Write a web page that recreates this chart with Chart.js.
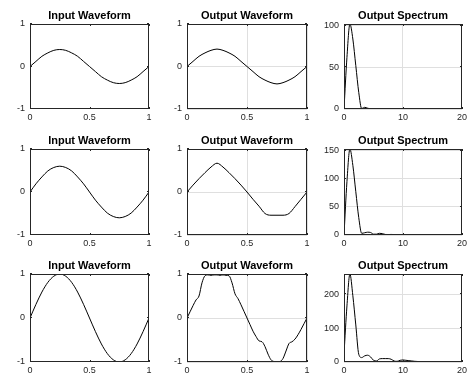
<!DOCTYPE html>
<html>
<head>
<meta charset="utf-8">
<script src="https://cdn.jsdelivr.net/npm/chart.js@4.4.1/dist/chart.umd.min.js"></script>
<style>
  html, body { margin: 0; padding: 0; background: #fff; }
  body { width: 470px; height: 375px; position: relative; overflow: hidden; }
  canvas { position: absolute; }
</style>
</head>
<body>
<script>
// Sample positions: time (s) for waveforms, frequency (Hz) for spectra
const tCoarse = [0, 0.05, 0.1, 0.15, 0.2, 0.25, 0.3, 0.35, 0.4, 0.45, 0.5,
  0.55, 0.6, 0.65, 0.7, 0.75, 0.8, 0.85, 0.9, 0.95, 1];
const tFine = [0, 0.025, 0.05, 0.075, 0.1, 0.125, 0.15, 0.175, 0.2, 0.225, 0.25,
  0.275, 0.3, 0.325, 0.35, 0.375, 0.4, 0.425, 0.45, 0.475, 0.5,
  0.525, 0.55, 0.575, 0.6, 0.625, 0.65, 0.675, 0.7, 0.725, 0.75,
  0.775, 0.8, 0.825, 0.85, 0.875, 0.9, 0.925, 0.95, 0.975, 1];
const freq = [0, 0.5, 1, 1.5, 2, 2.5, 3, 3.5, 4, 4.5, 5, 5.5, 6, 6.5, 7, 7.5, 8, 8.5, 9, 9.5, 10,
  10.5, 11, 11.5, 12, 12.5, 13, 13.5, 14, 14.5, 15, 15.5, 16, 16.5, 17, 17.5, 18, 18.5, 19, 19.5, 20];

// Row 1: small input, passes unchanged
const input1 = [0, 0.12, 0.24, 0.32, 0.38, 0.4, 0.38, 0.32, 0.24, 0.12, 0,
  -0.12, -0.24, -0.32, -0.38, -0.4, -0.38, -0.32, -0.24, -0.12, 0];
const output1 = [0, 0.12, 0.24, 0.32, 0.38, 0.41, 0.38, 0.32, 0.24, 0.12, 0,
  -0.12, -0.24, -0.32, -0.38, -0.41, -0.38, -0.32, -0.24, -0.12, 0];
const spectrum1 = [0, 62, 102, 84, 52, 20, 0.5, 2, 1, 0.3, 0.5, 0.3, 0.3, 0.2, 0.2, 0.2, 0.2, 0.1, 0.1, 0.1, 0.1,
  0.1, 0.1, 0.1, 0.1, 0.1, 0.1, 0.1, 0.1, 0.1, 0.1, 0.1, 0.1, 0.1, 0.1, 0.1, 0.1, 0.1, 0.1, 0.1, 0.1];

// Row 2: medium input, peak sharpened and trough flattened
const input2 = [0, 0.19, 0.35, 0.49, 0.57, 0.6, 0.57, 0.49, 0.35, 0.19, 0,
  -0.19, -0.35, -0.49, -0.57, -0.6, -0.57, -0.49, -0.35, -0.19, 0];
const output2 = [0, 0.16, 0.31, 0.45, 0.58, 0.67, 0.58, 0.45, 0.31, 0.16, 0,
  -0.17, -0.33, -0.5, -0.54, -0.54, -0.54, -0.5, -0.34, -0.17, 0];
const spectrum2 = [0, 95, 153, 124, 77, 31, 3, 4, 5, 4.5, 1.5, 1.5, 3, 2.5, 1, 0.8, 1, 0.8, 0.8, 0.6, 0.5,
  0.4, 0.4, 0.3, 0.3, 0.3, 0.3, 0.3, 0.3, 0.3, 0.3, 0.3, 0.3, 0.3, 0.3, 0.3, 0.3, 0.3, 0.3, 0.3, 0.3];

// Row 3: full-scale input, heavily distorted output
const input3 = [0, 0.31, 0.59, 0.81, 0.95, 1, 0.95, 0.81, 0.59, 0.31, 0,
  -0.31, -0.59, -0.81, -0.95, -1, -0.95, -0.81, -0.59, -0.31, 0];
const output3 = [0, 0.14, 0.28, 0.41, 0.5, 0.8, 0.96, 0.98, 0.97, 0.98, 0.98,
  0.97, 0.98, 0.97, 0.96, 0.8, 0.55, 0.44, 0.3, 0.15, 0,
  -0.15, -0.3, -0.42, -0.52, -0.54, -0.65, -0.82, -0.95, -0.99, -1.0,
  -0.99, -0.92, -0.75, -0.58, -0.54, -0.48, -0.38, -0.26, -0.13, 0];
const spectrum3 = [24, 165, 259, 195, 109, 23, 13, 18, 20, 15, 5, 3, 9, 10, 10, 10, 8, 3, 2, 5, 6,
  5, 4, 3, 2, 1.5, 1, 0.8, 0.5, 0.5, 0.4, 0.4, 0.4, 0.3, 0.3, 0.3, 0.3, 0.3, 0.3, 0.3, 0.3];
const spectrumMax = [102, 153, 259];

// Tick labels
const waveXTicks = [0, 0.5, 1];
const waveYTicks = [-1, 0, 1];
const specXTicks = [0, 10, 20];
const specYTicks = [[0, 50, 100], [0, 50, 100, 150], [0, 100, 200]];

// Layout of the 3x3 grid (plot-area boxes)
const colLeft = [30, 187, 344];
const colWidth = [119, 120, 120];
const rowTop = [24, 149, 274];
const rowHeight = [85, 86, 88];
const Y_AXIS_W = 30, X_AXIS_H = 14, TITLE_H = 22, PAD_R = 6;

const axisColor = '#262626';
const gridColor = '#dfdfdf';
const fontFamily = '"Liberation Sans", Arial, Helvetica, sans-serif';

// Draws the closed box, MATLAB-style inward ticks on all sides, and the centred title
const boxPlugin = {
  id: 'box',
  afterDatasetsDraw(chart, args, opts) {
    const { ctx, chartArea: a, scales } = chart;
    const tl = 2;
    ctx.save();
    ctx.strokeStyle = axisColor;
    ctx.lineWidth = 1;
    ctx.beginPath();
    scales.x.ticks.forEach(t => {
      const px = Math.round(scales.x.getPixelForValue(t.value)) + 0.5;
      ctx.moveTo(px, a.bottom); ctx.lineTo(px, a.bottom - tl);
      ctx.moveTo(px, a.top); ctx.lineTo(px, a.top + tl);
    });
    scales.y.ticks.forEach(t => {
      const py = Math.round(scales.y.getPixelForValue(t.value)) - 0.5;
      ctx.moveTo(a.left, py); ctx.lineTo(a.left + tl, py);
      ctx.moveTo(a.right, py); ctx.lineTo(a.right - tl, py);
    });
    ctx.stroke();
    ctx.strokeRect(a.left + 0.5, a.top + 0.5, a.right - a.left - 1, a.bottom - a.top - 1);

    ctx.fillStyle = '#000';
    ctx.font = 'bold 11px ' + fontFamily;
    ctx.textAlign = 'center';
    ctx.textBaseline = 'alphabetic';
    ctx.fillText(opts.text, (a.left + a.right) / 2, a.top - 5);
    ctx.restore();
  }
};

function fmt(v) {
  return String(+Number(v).toFixed(2));
}

function makePanel(row, col, title, xs, ys, xRange, xTicks, yRange, yTicks, showGrid) {
  const canvas = document.createElement('canvas');
  const w = Y_AXIS_W + colWidth[col] + PAD_R;
  const h = TITLE_H + rowHeight[row] + X_AXIS_H;
  canvas.width = w;
  canvas.height = h;
  canvas.style.width = w + 'px';
  canvas.style.height = h + 'px';
  canvas.style.left = (colLeft[col] - Y_AXIS_W) + 'px';
  canvas.style.top = (rowTop[row] - TITLE_H) + 'px';
  document.body.appendChild(canvas);

  const tickFont = { family: fontFamily, size: 9 };
  const gridOpts = {
    display: showGrid,
    drawOnChartArea: showGrid,
    drawTicks: false,
    color: gridColor,
    lineWidth: 1
  };

  return new Chart(canvas, {
    type: 'line',
    data: {
      datasets: [{
        data: xs.map((x, i) => ({ x: x, y: ys[i] })),
        borderColor: '#000',
        borderWidth: 1,
        pointRadius: 0,
        fill: false,
        cubicInterpolationMode: 'monotone'
      }]
    },
    options: {
      responsive: false,
      animation: false,
      devicePixelRatio: 1,
      layout: { padding: { left: 0, right: PAD_R, top: TITLE_H, bottom: 0 } },
      plugins: {
        legend: { display: false },
        tooltip: { enabled: false },
        title: { display: false },
        box: { text: title }
      },
      scales: {
        x: {
          type: 'linear',
          min: xRange[0], max: xRange[1],
          grid: gridOpts,
          border: { display: false },
          ticks: {
            autoSkip: false, maxRotation: 0,
            color: axisColor, font: tickFont, padding: 3, callback: fmt
          },
          afterBuildTicks: s => { s.ticks = xTicks.map(v => ({ value: v })); },
          afterFit: s => { s.height = X_AXIS_H; }
        },
        y: {
          type: 'linear',
          min: yRange[0], max: yRange[1],
          grid: gridOpts,
          border: { display: false },
          ticks: {
            autoSkip: false,
            color: axisColor, font: tickFont, padding: 5, callback: fmt
          },
          afterBuildTicks: s => { s.ticks = yTicks.map(v => ({ value: v })); },
          afterFit: s => { s.width = Y_AXIS_W; }
        }
      }
    },
    plugins: [boxPlugin]
  });
}

const inputs = [input1, input2, input3];
const outputs = [output1, output2, output3];
const outputT = [tCoarse, tCoarse, tFine];
const spectra = [spectrum1, spectrum2, spectrum3];

for (let r = 0; r < 3; r++) {
  makePanel(r, 0, 'Input Waveform', tCoarse, inputs[r], [0, 1], waveXTicks, [-1, 1], waveYTicks, false);
  makePanel(r, 1, 'Output Waveform', outputT[r], outputs[r], [0, 1], waveXTicks, [-1, 1], waveYTicks, true);
  makePanel(r, 2, 'Output Spectrum', freq, spectra[r], [0, 20], specXTicks, [0, spectrumMax[r]], specYTicks[r], true);
}
</script>
</body>
</html>
